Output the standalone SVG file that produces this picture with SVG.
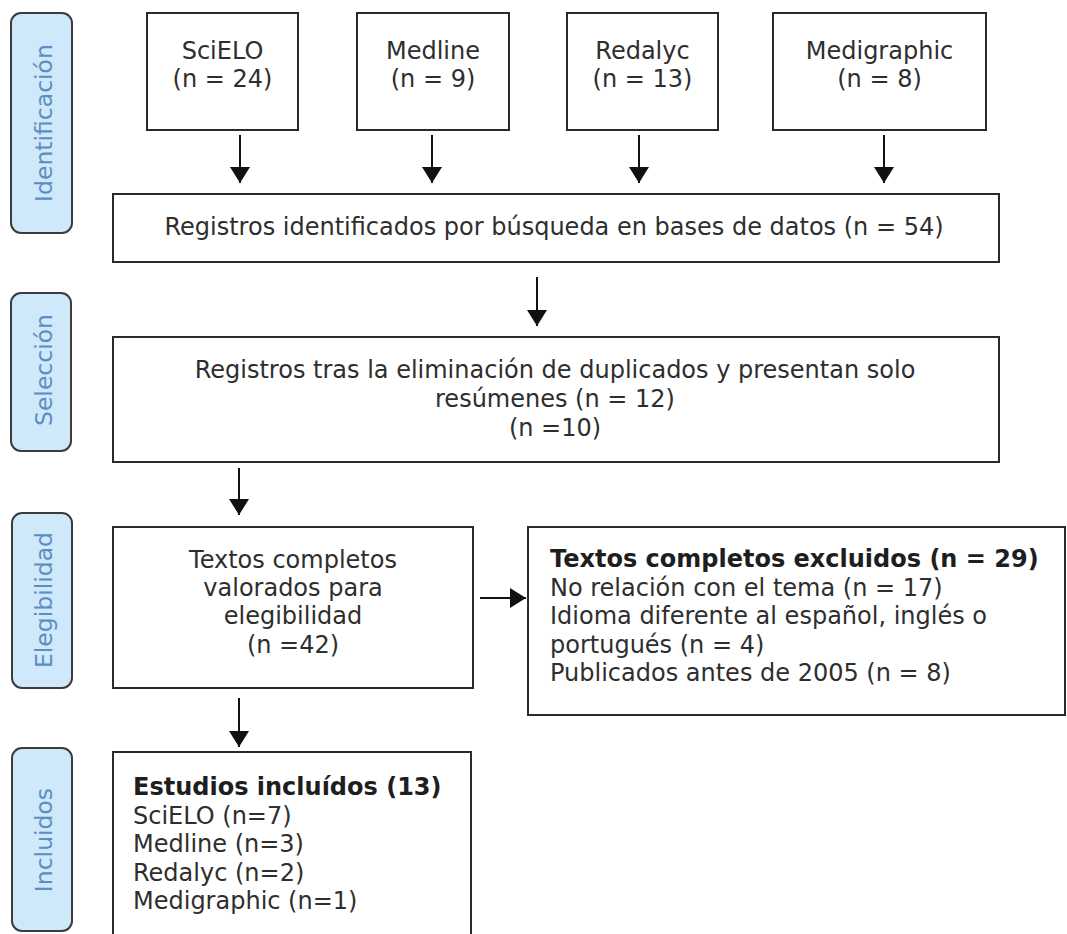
<svg xmlns="http://www.w3.org/2000/svg" width="1067" height="934" viewBox="0 0 1067 934">
<style>
.bg{fill:#ffffff}
.box{fill:#ffffff;stroke:#2a2a2a;stroke-width:2}
.pill{fill:#cfe8fa;stroke:#3c3c3c;stroke-width:2}
.t{font-family:"DejaVu Sans","Liberation Sans",sans-serif;font-size:24px;fill:#2e2e2e}
.c{text-anchor:middle}
.b{font-weight:bold;fill:#1e1e1e}
.p{font-family:"DejaVu Sans","Liberation Sans",sans-serif;font-size:23.5px;fill:#5b8ec2;text-anchor:middle}
.ln{stroke:#111;stroke-width:2;fill:none}
</style>
<defs>
<marker id="ah" viewBox="0 0 16 20" refX="16" refY="10" markerWidth="16" markerHeight="20" markerUnits="userSpaceOnUse" orient="auto">
<path d="M0,0 L16,10 L0,20 Z" fill="#111"/>
</marker>
</defs>
<rect class="bg" x="0" y="0" width="1067" height="934"/>

<g id="stage-identificacion">
<rect class="pill" x="11" y="13" width="61" height="220" rx="10"/>
<text class="p" transform="translate(52,123) rotate(-90)">Identificación</text>
</g>
<g id="stage-seleccion">
<rect class="pill" x="11" y="293" width="60" height="158" rx="10"/>
<text class="p" transform="translate(52,370) rotate(-90)">Selección</text>
</g>
<g id="stage-elegibilidad">
<rect class="pill" x="12" y="513" width="60" height="175" rx="10"/>
<text class="p" transform="translate(52,600) rotate(-90)">Elegibilidad</text>
</g>
<g id="stage-incluidos">
<rect class="pill" x="12" y="748" width="60" height="183" rx="10"/>
<text class="p" transform="translate(52,840) rotate(-90)">Incluidos</text>
</g>

<g id="node-scielo">
<rect class="box" x="147" y="13" width="151" height="117"/>
<text class="t c" x="222.5" y="59">SciELO</text>
<text class="t c" x="222.5" y="87">(n = 24)</text>
</g>
<g id="node-medline">
<rect class="box" x="357" y="13" width="152" height="117"/>
<text class="t c" x="433" y="59">Medline</text>
<text class="t c" x="433" y="87">(n = 9)</text>
</g>
<g id="node-redalyc">
<rect class="box" x="567" y="13" width="151" height="117"/>
<text class="t c" x="642.5" y="59">Redalyc</text>
<text class="t c" x="642.5" y="87">(n = 13)</text>
</g>
<g id="node-medigraphic">
<rect class="box" x="773" y="13" width="213" height="117"/>
<text class="t c" x="879.5" y="59">Medigraphic</text>
<text class="t c" x="879.5" y="87">(n = 8)</text>
</g>

<g id="node-registros">
<rect class="box" x="113" y="194" width="886" height="68"/>
<text class="t c" x="554" y="235">Registros identificados por búsqueda en bases de datos (n = 54)</text>
</g>

<g id="node-duplicados">
<rect class="box" x="113" y="337" width="886" height="125"/>
<text class="t c" x="555" y="378">Registros tras la eliminación de duplicados y presentan solo</text>
<text class="t c" x="555" y="407">resúmenes (n = 12)</text>
<text class="t c" x="555" y="436">(n =10)</text>
</g>

<g id="node-textos">
<rect class="box" x="113" y="527" width="360" height="161"/>
<text class="t c" x="293" y="568">Textos completos</text>
<text class="t c" x="293" y="596">valorados para</text>
<text class="t c" x="293" y="624">elegibilidad</text>
<text class="t c" x="293" y="653">(n =42)</text>
</g>

<g id="node-excluidos">
<rect class="box" x="528" y="527" width="537" height="188"/>
<text class="t b" x="550" y="567">Textos completos excluidos (n = 29)</text>
<text class="t" x="550" y="596">No relación con el tema (n = 17)</text>
<text class="t" x="550" y="624">Idioma diferente al español, inglés o</text>
<text class="t" x="550" y="653">portugués (n = 4)</text>
<text class="t" x="550" y="681">Publicados antes de 2005 (n = 8)</text>
</g>

<g id="node-estudios">
<rect class="box" x="113" y="752" width="358" height="190"/>
<text class="t b" x="133" y="795">Estudios incluídos (13)</text>
<text class="t" x="133" y="824">SciELO (n=7)</text>
<text class="t" x="133" y="852">Medline (n=3)</text>
<text class="t" x="133" y="881">Redalyc (n=2)</text>
<text class="t" x="133" y="909">Medigraphic (n=1)</text>
</g>

<g id="connectors">
<line class="ln" x1="240" y1="135" x2="240" y2="183" marker-end="url(#ah)"/>
<line class="ln" x1="432" y1="135" x2="432" y2="183" marker-end="url(#ah)"/>
<line class="ln" x1="639" y1="135" x2="639" y2="183" marker-end="url(#ah)"/>
<line class="ln" x1="884" y1="135" x2="884" y2="183" marker-end="url(#ah)"/>
<line class="ln" x1="537" y1="277" x2="537" y2="326" marker-end="url(#ah)"/>
<line class="ln" x1="239" y1="468" x2="239" y2="515" marker-end="url(#ah)"/>
<line class="ln" x1="480" y1="598" x2="526" y2="598" marker-end="url(#ah)"/>
<line class="ln" x1="239" y1="698" x2="239" y2="747" marker-end="url(#ah)"/>
</g>
</svg>
